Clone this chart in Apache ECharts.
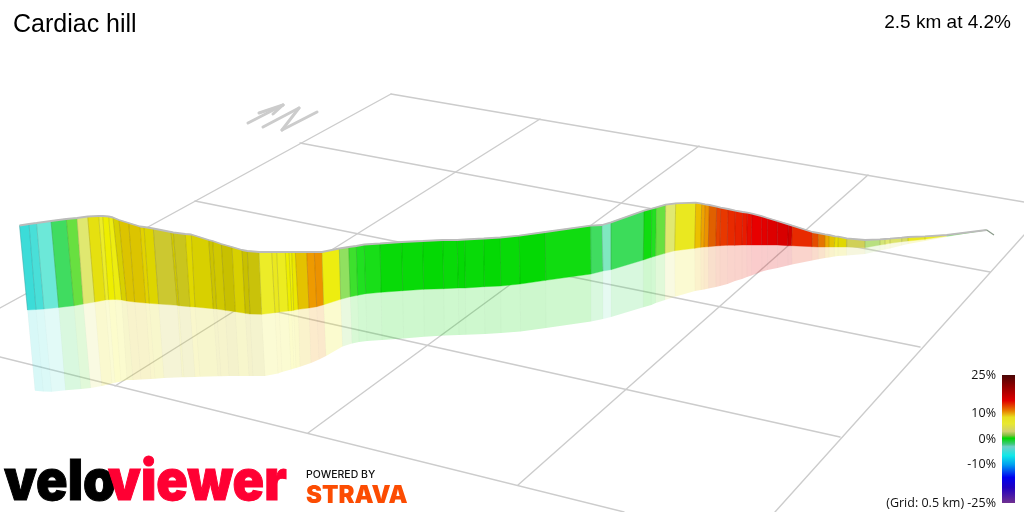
<!DOCTYPE html>
<html>
<head>
<meta charset="utf-8">
<style>html,body{margin:0;padding:0;background:#fff}#c{width:1024px;height:512px}</style>
<script src="https://cdn.jsdelivr.net/npm/echarts@6/dist/echarts.min.js"></script>
</head>
<body>
<div id="c"></div>
<script>
// Projected picture coordinates of the ribbon boundaries
const topX = [19.5,29,36.5,51,66.3,77,87.7,98.7,102.7,108.7,113,119,128.7,140,144,153.3,171,173.3,185.3,191.3,208.7,212.7,221.3,232,242,247.3,259,271.7,276.7,285.3,289,291.7,295.3,306.7,314.3,322,339.3,348.7,356.3,364.3,380,401.7,422.7,442.7,457.3,464.7,483.7,500.3,519.3,545.3,590.7,602,611,644,651.7,656.3,665.7,675.7,695.7,701.7,705,709.3,716.7,720.7,728,735.3,742.7,747.3,752,761.7,767.3,777.3,788.3,792.3,812.3,818.3,825,829,835,838.3,846.7,865,880,885,890,901.7,908,925,946.7,986.7];
const topY = [225.5,224,223,221,219,218,216.5,216,216,216.5,217.5,220,223,226.5,227,228.5,232,232.5,234,234.5,240,241,244,247,250,251,252,252,252,252,252,252,252,252,252,252,248.5,247,246,244.5,243.5,242,241,240,240,239.5,238.5,237.5,235.7,232,225.7,225,222.3,210.7,208.7,207.3,204.7,203.3,202.7,203.7,204.3,205,206.7,207.7,209,210.7,212,212.7,213.7,216.2,218,221,224.3,225.7,232,233,234.3,235,236.3,236.7,238.3,240,239.3,239,238.7,237.7,237,236.3,235,230];
const baseX = [27.5,36,44,58.7,74,83.3,94.7,105.3,108.7,115,121.7,126.7,134.7,145.7,149.3,158.7,177.3,179,190,195,213.3,216.7,225.3,235.3,245.3,250,261.7,275,279.3,288.3,291.7,293.7,298.3,309,316.7,323.7,340.7,350.3,357.7,365.7,381,402.7,423.7,443.7,458.3,465.3,484.3,500.7,520,545.7,591,603,611,643.3,651.3,655.7,665,674.7,694.7,700.7,704,708.3,715.7,720,727.3,734.7,742,746.7,751.3,761.7,767.3,777.3,787.7,791.7,812,818.3,825,829,834.3,838,846.7,865,880,885,890,901.7,908,925,946.7,986.7];
const baseY = [310,309.5,309,307.5,305.7,304,302,300,299.7,299.5,300,301,302,303,303.3,304,305.3,305.7,306.7,307,308.7,309,310.3,311.7,313.3,314,314.3,312.7,312,311,310.7,310.3,309.3,308,306.7,304.7,299.3,296.7,295.3,293.7,292.3,290.7,289.3,288.7,288,288,286.7,286,284,280.3,274,271,269.7,260,257.3,256,253.3,250.7,248.3,247.3,247,246.7,246,245.7,245.3,245.3,245,245,245,245,245,245,245.7,245.7,246.7,247,247,247,247,247,247,247.7,245,244.3,243.3,241.7,241,239.3,236,230];
const shadeX = [35,43.3,51.7,65.5,81,90.7,101.7,112,115,121,127,133,141,151,155,164,182,184,195,200,218,221,229,239,249,253,265,278,282,291,294,296,300,311,319,326,342.5,352,359,367,382,403.5,424.3,444.3,459,466,485,501,520.5,546,591,603,611,643.3,651.3,655.7,665,675,695,701,704,708.5,716,720,727.5,735,742,747,751.5,762,767.5,777.5,788,792,812,818.3,825,829,834.3,838,846.7,865,880,885,890,901.7,908,925,946.7,986.7];
const shadeY = [390.7,391.5,391.7,390.3,389,388,386,383.5,382.7,381.5,380,380,379.5,379,378.7,378,377.3,377.3,377,376.7,376.3,376.3,376,376,376,376,376,373.5,372,369.5,368.5,368,366.7,363,359.5,356,346.5,343.5,342,341,340,338.5,336.7,335.5,335,334.7,334,333,331.5,328,321.5,319,317,307.3,305,303,300,296.7,291,290,289.5,288.5,287,286,284,281,279,277,275.5,271.5,270,268,265.5,264.5,260.5,259.3,258,257.5,256.5,256,255.5,254,250.5,249.5,248.5,245.5,244,241,237,230];
// Gradient (%) of each section between two boundaries
const grades = [-5,-4.5,-3.2,-1.5,1,2.6,5.2,5.5,6,5.8,4.5,7.2,7.2,6.8,4.8,3.6,4.4,3.8,5,4.5,4.2,4.3,4.1,4.5,4.1,4,5.5,5.4,5.6,6,5.9,6.2,7.4,8.6,8.8,5.8,1.5,0.7,0.5,0.4,0.2,0.2,0.15,0.2,0.15,0.2,0.15,0.2,0.15,0.3,-1.5,-2.8,-1.4,0.3,0.5,1,2.6,5.4,7.6,8.3,8.8,10,10.7,11,11.5,11.8,12,12.5,13,13.5,14,14.5,15,11.5,10.5,9.5,8.2,7.4,6.5,5,3.4,2,2.4,2.6,2.8,3,5.4,5.6,0.8];
const tailX = [986.7,994];
const tailY = [230,235];
// Ground grid and compass strokes
const rowLines = [[391,94,1024,202],[300,143,990,272],[195,201,920,347],[75,267,840,437],[0,357,624,512]];
const columnLines = [[391,94,0,308],[540,119,115,386],[699,146,308,433],[868,175,518,485],[1024,235,775,512]];
const compassLines = [[248,123,283,105],[259,113,283,105],[273,114,283,105],[263,127,299,108],[299,108,282,130],[282,130,317,112]];
// Colour scale of the ribbon
const scaleGrades = [-25,-19,-15,-10,-6.5,-5,-3.2,-2.8,-1.5,0.1,0.5,1,2,2.6,3.4,3.6,4.1,4.5,5,5.5,6,7.2,7.6,8.6,10,11,13,14.5,15,21,25];
const scaleColors = ['#703090','#2000c0','#0000f0','#00a0f0','#10e8e8','#3cdcd8','#6ce8d8','#80e8c0','#40dc60','#00d800','#20e020','#68e040','#b8e080','#e0e870','#d0d058','#ccc830','#c8c000','#d8d000','#e0d800','#ecec28','#eeee00','#dcc400','#ecc000','#ee9a00','#e06000','#e83800','#e80000','#d80000','#d00000','#8a0000','#4a0505'];
// Colour bar
const legendGrades = [-25,-19,-15,-10,-6.5,-3,-2,0.3,1.4,3,6,8.5,11,15,21,25];
const legendColors = ['#703090','#2000c0','#0000f0','#00a0f0','#10e8e8','#70d0c8','#40c880','#00d800','#80c040','#d0d070','#e8e830','#e8e020','#e88000','#e00000','#8a0000','#4a0505'];
const legendTicks = [-25,-10,0,10,25];
const titleText = 'Cardiac hill';
const summaryText = '2.5 km at 4.2%';
const gridNote = '(Grid: 0.5 km) ';

function hex(c){return [1,3,5].map(i=>parseInt(c.substr(i,2),16));}
function gradeColor(g){
  let i=0; while(i<scaleGrades.length-2 && g>scaleGrades[i+1]) i++;
  const t=Math.max(0,Math.min(1,(g-scaleGrades[i])/(scaleGrades[i+1]-scaleGrades[i])));
  const a=hex(scaleColors[i]),b=hex(scaleColors[i+1]);
  return 'rgb('+a.map((v,k)=>Math.round(v+(b[k]-v)*t)).join(',')+')';
}
function lineSeries(lines,z,width){
  return {type:'custom',xAxisIndex:0,yAxisIndex:0,z:z,silent:true,clip:true,
    data:lines,encode:{x:[0,2],y:[1,3]},
    renderItem:function(p,api){
      const a=api.coord([api.value(0),api.value(1)]),b=api.coord([api.value(2),api.value(3)]);
      return {type:'line',shape:{x1:a[0],y1:a[1],x2:b[0],y2:b[1]},style:{stroke:'#cccccc',lineWidth:width,lineCap:'round'}};
    }};
}
const sectionRows = grades.map((g,i)=>[topX[i],topY[i],i,g]);
const chart = echarts.init(document.getElementById('c'),null,{renderer:'canvas'});
chart.setOption({
  animation:false,
  backgroundColor:'#ffffff',
  title:[
    {text:titleText,left:13,top:13,padding:0,textStyle:{fontFamily:'Liberation Sans',fontSize:25,fontWeight:'normal',color:'#000'}},
    {text:summaryText,right:13,top:13,padding:0,textStyle:{fontFamily:'Liberation Sans',fontSize:19,fontWeight:'normal',color:'#000'}}
  ],
  grid:[
    {left:0,top:0,width:1024,height:512,show:false},
    {left:1002,top:375,width:13,height:128,show:false}
  ],
  xAxis:[
    {gridIndex:0,type:'value',min:0,max:1024,show:false},
    {gridIndex:1,type:'value',min:0,max:1,show:false}
  ],
  yAxis:[
    {gridIndex:0,type:'value',min:0,max:512,inverse:true,show:false},
    {gridIndex:1,type:'value',min:-25,max:25,position:'left',
     axisLine:{show:false},axisTick:{show:false},splitLine:{show:false},
     axisLabel:{show:true,customValues:legendTicks,margin:6,fontFamily:'Open Sans',fontSize:12.5,color:'#111',
       formatter:v=>(v===-25?gridNote:'')+v+'%'}}
  ],
  series:[
    lineSeries(rowLines,1,1.4),
    lineSeries(columnLines,1,1.4),
    lineSeries(compassLines,1,3),
    {type:'custom',xAxisIndex:0,yAxisIndex:0,z:2,silent:true,data:sectionRows,encode:{x:0,y:1},
     renderItem:function(p,api){
       const i=api.value(2),c=gradeColor(api.value(3));
       const P=(x,y)=>api.coord([x,y]);
       const top=[P(topX[i],topY[i]),P(topX[i+1],topY[i+1]),P(baseX[i+1],baseY[i+1]),P(baseX[i],baseY[i])];
       const low=[P(baseX[i],baseY[i]),P(baseX[i+1],baseY[i+1]),P(shadeX[i+1],shadeY[i+1]),P(shadeX[i],shadeY[i])];
       return {type:'group',children:[
         {type:'polygon',shape:{points:low},style:{fill:c,opacity:0.2}},
         {type:'line',shape:{x1:low[0][0],y1:low[0][1],x2:low[3][0],y2:low[3][1]},style:{stroke:'rgba(0,0,0,0.02)',lineWidth:1}},
         {type:'polygon',shape:{points:top},style:{fill:c,stroke:c,lineWidth:0.4}},
         {type:'line',shape:{x1:top[0][0],y1:top[0][1],x2:top[3][0],y2:top[3][1]},style:{stroke:'rgba(0,0,0,0.13)',lineWidth:1}}
       ]};
     }},
    {type:'line',xAxisIndex:0,yAxisIndex:0,z:3,silent:true,symbol:'none',data:topX.map((x,i)=>[x,topY[i]]),
     lineStyle:{color:'#bbbbbb',width:1.8}},
    {type:'line',xAxisIndex:0,yAxisIndex:0,z:3,silent:true,symbol:'none',data:tailX.map((x,i)=>[x,tailY[i]]),
     lineStyle:{color:'#8a9a8a',width:1.2}},
    {type:'custom',xAxisIndex:1,yAxisIndex:1,z:4,silent:true,data:[[0,25,1,-25]],encode:{x:[0,2],y:[1,3]},
     renderItem:function(p,api){
       const a=api.coord([api.value(0),api.value(1)]),b=api.coord([api.value(2),api.value(3)]);
       const stops=legendGrades.map((g,i)=>({offset:(25-g)/50,color:legendColors[i]})).reverse();
       return {type:'rect',shape:{x:a[0],y:a[1],width:b[0]-a[0],height:b[1]-a[1]},
         style:{fill:new echarts.graphic.LinearGradient(0,0,0,1,stops)}};
     }}
  ],
  graphic:[
    {type:'text',x:4,y:511.5,scaleX:0.93,z:10,style:{text:'velo',font:'900 56px Inter',fill:'#000000',stroke:'#000000',lineWidth:1,textBaseline:'bottom',textVerticalAlign:'bottom'}},
    {type:'text',x:108,y:511.5,scaleX:0.93,z:10,style:{text:'viewer',font:'900 56px Inter',fill:'#ff0033',stroke:'#ff0033',lineWidth:1,textBaseline:'bottom',textVerticalAlign:'bottom'}},
    {type:'text',x:306,y:480,scaleX:1.05,z:10,style:{text:'POWERED BY',font:'500 10px Inter',fill:'#111111',textBaseline:'bottom',textVerticalAlign:'bottom'}},
    {type:'text',x:306,y:507.5,z:10,style:{text:'STRAVA',font:'900 24px Inter',fill:'#fc4c02',textBaseline:'bottom',textVerticalAlign:'bottom'}}
  ]
});
</script>
</body>
</html>
